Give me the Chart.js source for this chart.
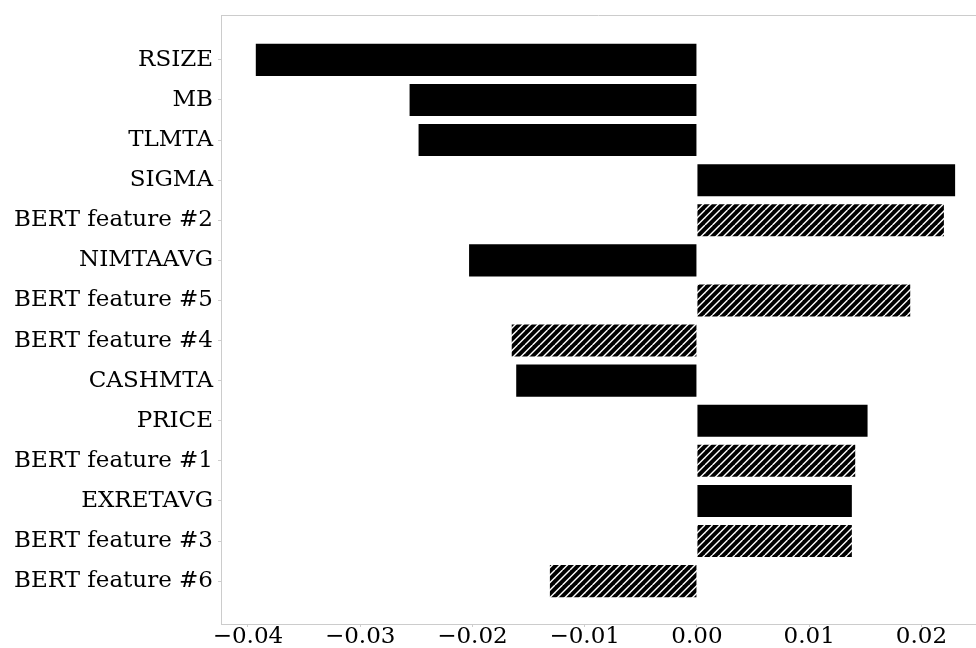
<!DOCTYPE html>
<html>
<head>
<meta charset="utf-8">
<script src="https://cdn.jsdelivr.net/npm/chart.js@4/dist/chart.umd.min.js"></script>
<style>
  html, body { margin: 0; padding: 0; background: #fff; }
  #wrap { width: 976px; height: 648px; }
</style>
</head>
<body>
<div id="wrap"><canvas id="c" width="976" height="648"></canvas></div>
<script>
// Feature importance, top to bottom
const features = [
  'RSIZE', 'MB', 'TLMTA', 'SIGMA', 'BERT feature #2', 'NIMTAAVG',
  'BERT feature #5', 'BERT feature #4', 'CASHMTA', 'PRICE',
  'BERT feature #1', 'EXRETAVG', 'BERT feature #3', 'BERT feature #6'
];
const importance = [
  -0.0393, -0.0256, -0.0248, 0.0230, 0.0220, -0.0203,
  0.0190, -0.0165, -0.0161, 0.0152,
  0.0141, 0.0138, 0.0138, -0.0131
];
const xTicks = [-0.04, -0.03, -0.02, -0.01, 0.00, 0.01, 0.02];

// Text-derived features are drawn hatched
function hatchPattern() {
  const s = 15;
  const t = document.createElement('canvas');
  t.width = s; t.height = s;
  const g = t.getContext('2d');
  g.fillStyle = '#000';
  g.fillRect(0, 0, s, s);
  g.strokeStyle = '#fff';
  g.lineWidth = 1.4;
  for (let c = -15; c <= 30; c += 7.5) {
    g.beginPath();
    g.moveTo(c, s);
    g.lineTo(c + s, 0);
    g.stroke();
  }
  return g.createPattern(t, 'repeat');
}
const hatch = hatchPattern();
const fills = features.map(f => f.startsWith('BERT') ? hatch : '#000');

const points = importance.map((v, i) => ({ x: v, y: i }));

const fontSpec = { family: 'DejaVu Serif', size: 23 };
const edge = '#cccccc';

// top frame line of the plot area
const frameTop = {
  id: 'frameTop',
  afterDraw(chart) {
    const { ctx, chartArea } = chart;
    ctx.save();
    ctx.strokeStyle = edge;
    ctx.lineWidth = 1;
    ctx.beginPath();
    ctx.moveTo(chartArea.left, chartArea.top + 0.5);
    ctx.lineTo(chartArea.right, chartArea.top + 0.5);
    ctx.stroke();
    ctx.restore();
  }
};

new Chart(document.getElementById('c'), {
  type: 'bar',
  data: {
    datasets: [{
      data: points,
      backgroundColor: fills,
      borderWidth: 0,
      barPercentage: 0.8,
      categoryPercentage: 1.0
    }]
  },
  options: {
    indexAxis: 'y',
    responsive: false,
    devicePixelRatio: 1,
    animation: false,
    layout: { padding: { top: 15, right: 0, bottom: 0, left: 0 } },
    plugins: { legend: { display: false }, tooltip: { enabled: false } },
    scales: {
      x: {
        type: 'linear',
        min: -0.0424,
        max: 0.02486,
        afterBuildTicks(scale) { scale.ticks = xTicks.map(v => ({ value: v })); },
        afterFit(scale) { scale.height = 24; },
        ticks: {
          color: '#000',
          font: fontSpec,
          padding: -4,
          maxRotation: 0,
          autoSkip: false,
          callback: v => (v < 0 ? '\u2212' : '') + Math.abs(v).toFixed(2)
        },
        grid: { drawOnChartArea: false, drawTicks: true, tickLength: 3, color: edge },
        border: { display: true, color: edge, width: 1 }
      },
      y: {
        type: 'linear',
        reverse: true,
        offset: false,
        min: -1.12,
        max: features.length - 1 + 1.07,
        afterBuildTicks(scale) { scale.ticks = features.map((_, i) => ({ value: i })); },
        afterFit(scale) {
          scale.width = 221;
          scale.paddingTop = 0;
          scale.paddingBottom = 0;
        },
        ticks: {
          color: '#000',
          font: fontSpec,
          padding: 5,
          autoSkip: false,
          callback: v => features[v]
        },
        grid: { offset: false, drawOnChartArea: false, drawTicks: true, tickLength: 3, color: edge },
        border: { display: true, color: edge, width: 1 }
      }
    }
  },
  plugins: [frameTop]
});
</script>
</body>
</html>
